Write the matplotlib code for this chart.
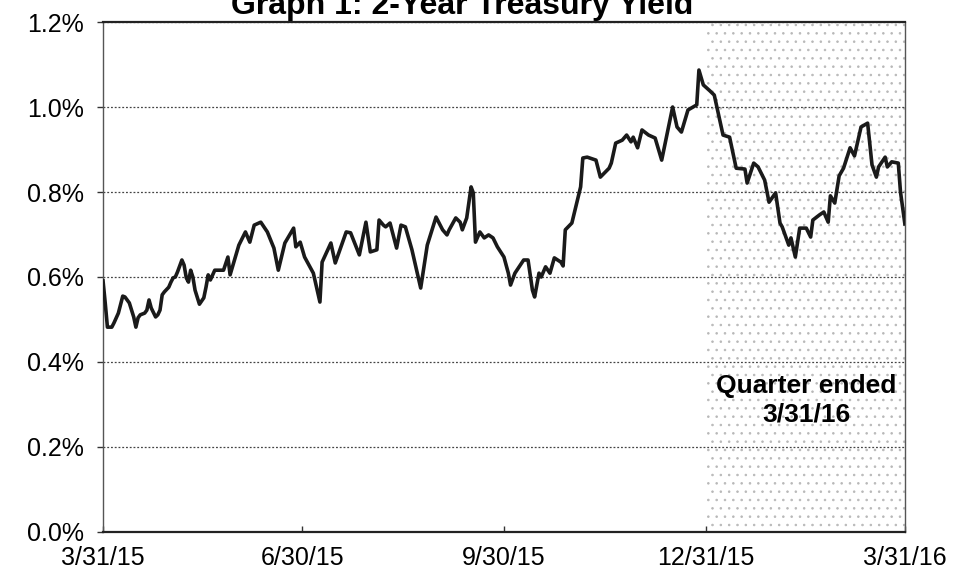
import pandas as pd
import matplotlib
matplotlib.use('Agg')
import matplotlib.pyplot as plt
from matplotlib.ticker import FuncFormatter

plt.rcParams['font.family'] = ['Liberation Sans', 'DejaVu Sans']
plt.rcParams['hatch.linewidth'] = 0.6

# days after 3/31/15 and 2-year yield in percent
days = [0, 1, 2, 4, 5, 7, 9, 10, 12, 14, 15, 16, 17, 19, 20, 21, 22, 24, 25, 26,
        27, 28, 30, 31, 32, 33, 34, 36, 37, 38, 39, 40, 41, 42, 44, 46, 47, 48, 49, 51,
        55, 57, 58, 62, 65, 67, 69, 72, 75, 78, 80, 83, 87, 88, 90, 92, 96, 99, 100, 104,
        106, 111, 113, 117, 120, 122, 125, 126, 128, 129, 131, 134, 136, 138, 141, 145, 148, 152, 155, 157,
        158, 161, 163, 164, 166, 168, 169, 170, 172, 174, 176, 178, 180, 183, 185, 186, 188, 192, 194, 196,
        197, 199, 200, 202, 204, 206, 209, 210, 211, 214, 216, 218, 219, 221, 225, 227, 231, 232, 234, 237,
        239, 241, 242, 244, 246, 249, 252, 255, 260, 262, 264, 267, 271, 272, 274, 277, 279, 283, 286, 289,
        293, 294, 297, 299, 302, 304, 307, 309, 310, 313, 314, 316, 318, 321, 323, 324, 327, 329, 331, 332,
        334, 336, 338, 341, 343, 346, 349, 351, 353, 354, 357, 358, 360, 363, 364, 366]
yields = [0.591, 0.539, 0.482, 0.482, 0.492, 0.515, 0.555, 0.553, 0.539, 0.506, 0.482, 0.504, 0.511, 0.515, 0.522, 0.546, 0.527, 0.506, 0.511, 0.522,
          0.558, 0.565, 0.576, 0.588, 0.598, 0.600, 0.612, 0.640, 0.628, 0.598, 0.588, 0.616, 0.600, 0.569, 0.536, 0.551, 0.576, 0.605, 0.593, 0.616,
          0.616, 0.647, 0.605, 0.675, 0.706, 0.682, 0.722, 0.729, 0.706, 0.668, 0.616, 0.680, 0.715, 0.671, 0.682, 0.647, 0.609, 0.541, 0.635, 0.680,
          0.633, 0.706, 0.704, 0.652, 0.729, 0.659, 0.664, 0.734, 0.722, 0.718, 0.727, 0.668, 0.722, 0.718, 0.664, 0.574, 0.675, 0.741, 0.711, 0.699,
          0.711, 0.739, 0.729, 0.711, 0.739, 0.812, 0.798, 0.682, 0.706, 0.692, 0.699, 0.692, 0.671, 0.647, 0.609, 0.581, 0.609, 0.640, 0.640, 0.569,
          0.553, 0.609, 0.600, 0.624, 0.609, 0.645, 0.635, 0.626, 0.711, 0.727, 0.769, 0.812, 0.880, 0.882, 0.875, 0.835, 0.856, 0.868, 0.915, 0.922,
          0.934, 0.918, 0.929, 0.904, 0.946, 0.934, 0.927, 0.875, 1.000, 0.953, 0.941, 0.993, 1.005, 1.087, 1.052, 1.038, 1.028, 0.934, 0.929, 0.856,
          0.854, 0.821, 0.868, 0.859, 0.828, 0.776, 0.798, 0.727, 0.718, 0.675, 0.692, 0.647, 0.715, 0.715, 0.694, 0.734, 0.746, 0.753, 0.729, 0.791,
          0.774, 0.838, 0.856, 0.904, 0.885, 0.953, 0.962, 0.864, 0.835, 0.859, 0.882, 0.859, 0.871, 0.868, 0.800, 0.725]

start = pd.Timestamp('2015-03-31')
dates = start + pd.to_timedelta(days, unit='D')

tick_dates = pd.to_datetime(['2015-03-31', '2015-06-30', '2015-09-30', '2015-12-31', '2016-03-31'])
tick_labels = ['3/31/15', '6/30/15', '9/30/15', '12/31/15', '3/31/16']
quarter_start, quarter_end = pd.Timestamp('2015-12-31'), pd.Timestamp('2016-03-31')

fig = plt.figure(figsize=(9.54, 5.76), dpi=100)
ax = fig.add_axes([0.108, 0.0764, 0.8405, 0.8854])

# stippled quarter band
ax.axvspan(quarter_start, quarter_end, facecolor='white', edgecolor='#b8b8b8',
           hatch='..', linewidth=0, zorder=0)

ax.plot(dates, yields, color='#1a1a1a', lw=2.6, zorder=3)

ax.set_xlim(start, quarter_end)
ax.set_ylim(0, 1.2)
ax.set_yticks([0, 0.2, 0.4, 0.6, 0.8, 1.0, 1.2])
ax.yaxis.set_major_formatter(FuncFormatter(lambda v, p: f'{v:.1f}%'))
ax.set_xticks(tick_dates)
ax.set_xticklabels(tick_labels)
ax.tick_params(axis='both', labelsize=18, length=4, width=1, color='#333333')
ax.tick_params(axis='x', direction='in', pad=10)
ax.tick_params(axis='y', direction='out', pad=10)

ax.grid(axis='y', linestyle=(0, (1.5, 1.5)), color='#444444', linewidth=0.9, zorder=1)
ax.set_axisbelow(True)

for side in ['top', 'bottom']:
    ax.spines[side].set_color('#222222')
    ax.spines[side].set_linewidth(1.6)
for side in ['left', 'right']:
    ax.spines[side].set_color('#555555')
    ax.spines[side].set_linewidth(1.0)

ax.text(pd.Timestamp('2016-02-15'), 0.31, 'Quarter ended\n3/31/16', ha='center', va='center',
        fontsize=19, fontweight='bold', linespacing=1.2, zorder=4)

fig.text(0.484, 0.976, 'Graph 1: 2-Year Treasury Yield', ha='center', va='baseline',
         fontsize=23, fontweight='bold')

fig.savefig('out.png', dpi=100)
